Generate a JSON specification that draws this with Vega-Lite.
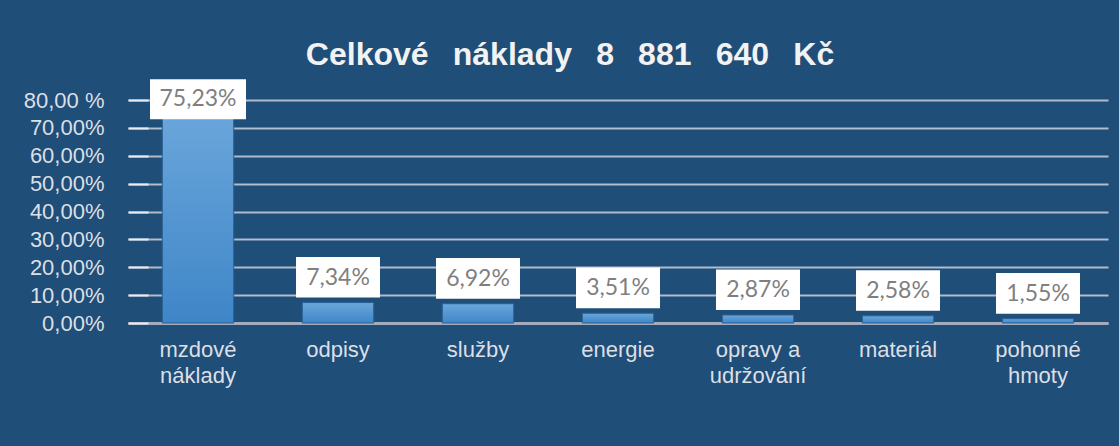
{
  "$schema": "https://vega.github.io/schema/vega-lite/v6.json",
  "width": 980,
  "height": 223,
  "autosize": {"type": "none"},
  "padding": {"left": 128, "top": 100, "right": 11, "bottom": 123},
  "background": "#1F4E79",
  "config": {
    "locale": {"number": {"decimal": ",", "thousands": " ", "grouping": [3], "currency": ["", " Kč"]}},
    "view": {"stroke": null},
    "font": "Liberation Sans"
  },
  "title": {
    "text": "Celkové\u00a0\u2009 náklady\u00a0\u2009 8\u00a0\u2009 881\u00a0\u2009 640\u00a0\u2009 Kč",
    "font": "Liberation Sans",
    "fontSize": 32,
    "fontWeight": "bold",
    "color": "#F2F2F2",
    "anchor": "middle",
    "baseline": "alphabetic",
    "dx": -48,
    "offset": -18
  },
  "data": {
    "values": [
      {"kategorie": "mzdové|náklady", "podil": 0.7523},
      {"kategorie": "odpisy", "podil": 0.0734},
      {"kategorie": "služby", "podil": 0.0692},
      {"kategorie": "energie", "podil": 0.0351},
      {"kategorie": "opravy a|udržování", "podil": 0.0287},
      {"kategorie": "materiál", "podil": 0.0258},
      {"kategorie": "pohonné|hmoty", "podil": 0.0155}
    ]
  },
  "encoding": {
    "x": {
      "field": "kategorie",
      "type": "nominal",
      "sort": null,
      "scale": {"paddingInner": 0.49, "paddingOuter": 0.245},
      "axis": {
        "title": null,
        "labelAngle": 0,
        "labelExpr": "split(datum.label, '|')",
        "labelFontSize": 22,
        "labelColor": "#DCDFE4",
        "labelBaseline": "top",
        "labelPadding": 16,
        "labelLineHeight": 26,
        "ticks": false,
        "domainColor": "#A3ACBD",
        "domainWidth": 3
      }
    },
    "y": {
      "field": "podil",
      "type": "quantitative",
      "scale": {"domain": [0, 0.8], "nice": false},
      "axis": {
        "title": null,
        "values": [0, 0.1, 0.2, 0.3, 0.4, 0.5, 0.6, 0.7, 0.8],
        "format": ".2%",
        "labelExpr": "datum.value > 0.79 ? '80,00 %' : datum.label",
        "labelFontSize": 22,
        "labelColor": "#DCDFE4",
        "labelPadding": 44,
        "tickSize": -20,
        "tickColor": "#E8ECF2",
        "tickWidth": 2,
        "domain": false,
        "grid": true,
        "gridColor": "#C9D1DD",
        "gridWidth": 2,
        "gridOpacity": 0.85
      }
    }
  },
  "layer": [
    {
      "mark": {
        "type": "bar",
        "stroke": "#2A5F92",
        "strokeWidth": 1,
        "color": {
          "gradient": "linear",
          "x1": 0, "y1": 0, "x2": 0, "y2": 1,
          "stops": [
            {"offset": 0, "color": "#6AA6DB"},
            {"offset": 1, "color": "#3F86C8"}
          ]
        }
      }
    },
    {
      "transform": [{"filter": "datum.podil < 0.5"}],
      "mark": {
        "type": "point",
        "filled": true,
        "color": "#FFFFFF",
        "opacity": 1,
        "strokeWidth": 0,
        "shape": "M-1,-1.086H1V-0.12H-1Z",
        "size": 7056
      }
    },
    {
      "transform": [{"filter": "datum.podil >= 0.5"}],
      "mark": {
        "type": "point",
        "filled": true,
        "color": "#FFFFFF",
        "opacity": 1,
        "strokeWidth": 0,
        "shape": "M-1,-0.708H1V0.125H-1Z",
        "size": 9216
      }
    },
    {
      "transform": [{"filter": "datum.podil < 0.5"}],
      "mark": {
        "type": "text",
        "dy": -25,
        "font": "Lato",
        "fontSize": 23,
        "color": "#7F7F7F",
        "baseline": "middle"
      },
      "encoding": {
        "text": {"field": "podil", "type": "quantitative", "format": ".2%"}
      }
    },
    {
      "transform": [{"filter": "datum.podil >= 0.5"}],
      "mark": {
        "type": "text",
        "dy": -14,
        "font": "Lato",
        "fontSize": 23,
        "color": "#7F7F7F",
        "baseline": "middle"
      },
      "encoding": {
        "text": {"field": "podil", "type": "quantitative", "format": ".2%"}
      }
    }
  ]
}
